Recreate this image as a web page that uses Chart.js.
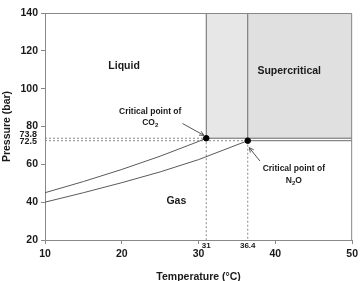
<!DOCTYPE html>
<html>
<head>
<meta charset="utf-8">
<script src="https://cdn.jsdelivr.net/npm/chart.js@4/dist/chart.umd.min.js"></script>
<style>
  html, body { margin: 0; padding: 0; background: #ffffff; }
  #wrap { width: 362px; height: 281px; }
</style>
</head>
<body>
<div id="wrap"><canvas id="c" width="362" height="281"></canvas></div>
<script>
// ---- data ----
const co2Temp = [10, 15, 20, 25, 30, 31];
const co2Pressure = [45.0, 50.9, 57.3, 64.3, 72.1, 73.8];
const n2oTemp = [10, 15, 20, 25, 30, 36.4];
const n2oPressure = [40.0, 45.0, 50.3, 56.0, 62.5, 72.5];
const criticalTemp = [31, 36.4];          // CO2, N2O
const criticalPressure = [73.8, 72.5];    // CO2, N2O
const xTicks = [10, 20, 30, 40, 50];
const yTicks = [20, 40, 60, 80, 100, 120, 140];
const xExtraTicks = ['31', '36.4'];
const yExtraTicks = ['73.8', '72.5'];
const regionLabels = ['Liquid', 'Supercritical', 'Gas'];

const xMin = xTicks[0], xMax = xTicks[xTicks.length - 1];
const yMin = yTicks[0], yMax = yTicks[yTicks.length - 1];

const pts = (xs, ys) => xs.map((x, i) => ({ x, y: ys[i] }));
const GRAY = '#6a6a6a';
const DASH = '#8a8a8a';
const FONT = '"Liberation Sans", Arial, sans-serif';

const datasets = [
  // supercritical shading (CO2 strip and beyond N2O)
  { data: [{x: criticalTemp[0], y: yMax}, {x: criticalTemp[1], y: yMax}], fill: {value: criticalPressure[0]},
    backgroundColor: '#e7e7e7', borderWidth: 0, pointRadius: 0, showLine: true, order: 20 },
  { data: [{x: criticalTemp[1], y: yMax}, {x: xMax, y: yMax}], fill: {value: criticalPressure[0]},
    backgroundColor: '#e0e0e0', borderWidth: 0, pointRadius: 0, showLine: true, order: 20 },
  // solid boundaries of the supercritical regions
  { data: [{x: criticalTemp[0], y: criticalPressure[0]}, {x: criticalTemp[0], y: yMax}], borderColor: GRAY, borderWidth: 1, pointRadius: 0, showLine: true, order: 5 },
  { data: [{x: criticalTemp[1], y: criticalPressure[0]}, {x: criticalTemp[1], y: yMax}], borderColor: GRAY, borderWidth: 1, pointRadius: 0, showLine: true, order: 5 },
  { data: [{x: criticalTemp[0], y: criticalPressure[0]}, {x: xMax, y: criticalPressure[0]}], borderColor: GRAY, borderWidth: 1, pointRadius: 0, showLine: true, order: 5 },
  { data: [{x: criticalTemp[1], y: criticalPressure[1]}, {x: xMax, y: criticalPressure[1]}], borderColor: GRAY, borderWidth: 1, pointRadius: 0, showLine: true, order: 5 },
  // dashed guides
  ...criticalTemp.map((t, i) => ({ data: [{x: xMin, y: criticalPressure[i]}, {x: t, y: criticalPressure[i]}],
    borderColor: DASH, borderWidth: 1, borderDash: [2, 2], pointRadius: 0, showLine: true, order: 6 })),
  ...criticalTemp.map((t, i) => ({ data: [{x: t, y: criticalPressure[i]}, {x: t, y: yMin}],
    borderColor: DASH, borderWidth: 1, borderDash: [2, 2], pointRadius: 0, showLine: true, order: 6 })),
  // vapour pressure curves
  { data: pts(co2Temp, co2Pressure), borderColor: '#5a5a5a', borderWidth: 1, pointRadius: 0, showLine: true, order: 2 },
  { data: pts(n2oTemp, n2oPressure), borderColor: '#5a5a5a', borderWidth: 1, pointRadius: 0, showLine: true, order: 2 },
  // critical points
  { data: pts(criticalTemp, criticalPressure), backgroundColor: '#000', borderColor: '#000', pointRadius: 2.8, showLine: false, order: 0 }
];

// annotation placement (data units)
const textSpecs = [
  { text: regionLabels[0], x: 20.3, y: 112 },
  { text: regionLabels[1], x: 41.8, y: 109.3 },
  { text: regionLabels[2], x: 27.1, y: 40.3 }
];
const cpSpecs = [
  { head: 'Critical point of', sub: ['CO', '2', ''], x: 23.7, y1: 87.7, y2: 81.8, from: {x: 27.9, y: 81.6}, to: {x: 30.7, y: 75.3} },
  { head: 'Critical point of', sub: ['N', '2', 'O'], x: 42.4, y1: 57.6, y2: 51.3, from: {x: 38.0, y: 61.7}, to: {x: 36.6, y: 68.8} }
];

const annot = {
  id: 'annot',
  afterDatasetsDraw(chart) {
    const { ctx, chartArea: a, scales: { x, y } } = chart;
    ctx.save();
    // frame
    ctx.strokeStyle = '#888'; ctx.lineWidth = 1;
    ctx.beginPath();
    ctx.moveTo(a.left, a.top + 0.5); ctx.lineTo(a.right - 0.5, a.top + 0.5); ctx.lineTo(a.right - 0.5, a.bottom);
    ctx.stroke();
    ctx.fillStyle = '#1a1a1a';
    ctx.textAlign = 'center'; ctx.textBaseline = 'middle';
    ctx.font = 'bold 10.5px ' + FONT;
    textSpecs.forEach(s => ctx.fillText(s.text, x.getPixelForValue(s.x), y.getPixelForValue(s.y)));
    // critical point labels
    cpSpecs.forEach(s => {
      const cx = x.getPixelForValue(s.x);
      ctx.font = 'bold 8.5px ' + FONT; ctx.textAlign = 'center';
      ctx.fillText(s.head, cx, y.getPixelForValue(s.y1));
      const w1 = ctx.measureText(s.sub[0]).width;
      const w3 = ctx.measureText(s.sub[2]).width;
      ctx.font = 'bold 6px ' + FONT;
      const w2 = ctx.measureText(s.sub[1]).width;
      const total = w1 + w2 + w3;
      let px = cx - total / 2; const py = y.getPixelForValue(s.y2);
      ctx.textAlign = 'left';
      ctx.font = 'bold 8.5px ' + FONT; ctx.fillText(s.sub[0], px, py); px += w1;
      ctx.font = 'bold 6px ' + FONT; ctx.fillText(s.sub[1], px, py + 2.5); px += w2;
      ctx.font = 'bold 8.5px ' + FONT; ctx.fillText(s.sub[2], px, py);
      // arrow
      const x0 = x.getPixelForValue(s.from.x), y0 = y.getPixelForValue(s.from.y);
      const x1 = x.getPixelForValue(s.to.x), y1 = y.getPixelForValue(s.to.y);
      ctx.strokeStyle = '#555'; ctx.lineWidth = 1;
      ctx.beginPath(); ctx.moveTo(x0, y0); ctx.lineTo(x1, y1); ctx.stroke();
      const ang = Math.atan2(y1 - y0, x1 - x0), L = 5;
      ctx.beginPath();
      ctx.moveTo(x1 - L * Math.cos(ang - 0.45), y1 - L * Math.sin(ang - 0.45));
      ctx.lineTo(x1, y1);
      ctx.lineTo(x1 - L * Math.cos(ang + 0.45), y1 - L * Math.sin(ang + 0.45));
      ctx.stroke();
    });
    // extra tick labels
    ctx.fillStyle = '#1a1a1a';
    ctx.font = 'bold 8px ' + FONT;
    ctx.textAlign = 'center'; ctx.textBaseline = 'middle';
    criticalTemp.forEach((t, i) => ctx.fillText(xExtraTicks[i], x.getPixelForValue(t), a.bottom + 6));
    ctx.font = 'bold 9px ' + FONT;
    ctx.textAlign = 'right';
    criticalPressure.forEach((p, i) => ctx.fillText(yExtraTicks[i], a.left - 8, y.getPixelForValue(p) + (i === 0 ? -3.5 : 0.5)));
    ctx.restore();
  }
};

const tickFont = { family: FONT, size: 10.5, weight: 'bold' };

new Chart(document.getElementById('c'), {
  type: 'scatter',
  data: { datasets },
  options: {
    responsive: false,
    animation: false,
    layout: { padding: { top: 13, right: 6, left: 0, bottom: 0 } },
    plugins: { legend: { display: false }, tooltip: { enabled: false } },
    scales: {
      x: {
        type: 'linear', min: xMin, max: xMax,
        afterBuildTicks: s => { s.ticks = xTicks.map(v => ({ value: v })); },
        afterFit: s => { s.height = 41; },
        ticks: { font: tickFont, color: '#1a1a1a', padding: 4, maxRotation: 0 },
        grid: { drawOnChartArea: false, tickLength: 4, color: '#888' },
        border: { color: '#888' },
        title: { display: true, text: 'Temperature (°C)', font: { family: FONT, size: 10.5, weight: 'bold', lineHeight: 0.8 }, color: '#1a1a1a', padding: 0 }
      },
      y: {
        type: 'linear', min: yMin, max: yMax,
        afterBuildTicks: s => { s.ticks = yTicks.map(v => ({ value: v })); },
        afterFit: s => { s.width = 45; },
        ticks: { font: tickFont, color: '#1a1a1a', padding: 3 },
        grid: { drawOnChartArea: false, tickLength: 4, color: '#888' },
        border: { color: '#888' },
        title: { display: true, text: 'Pressure (bar)', font: { family: FONT, size: 10.5, weight: 'bold' }, color: '#1a1a1a', padding: { top: 1 } }
      }
    }
  },
  plugins: [annot]
});
</script>
</body>
</html>
